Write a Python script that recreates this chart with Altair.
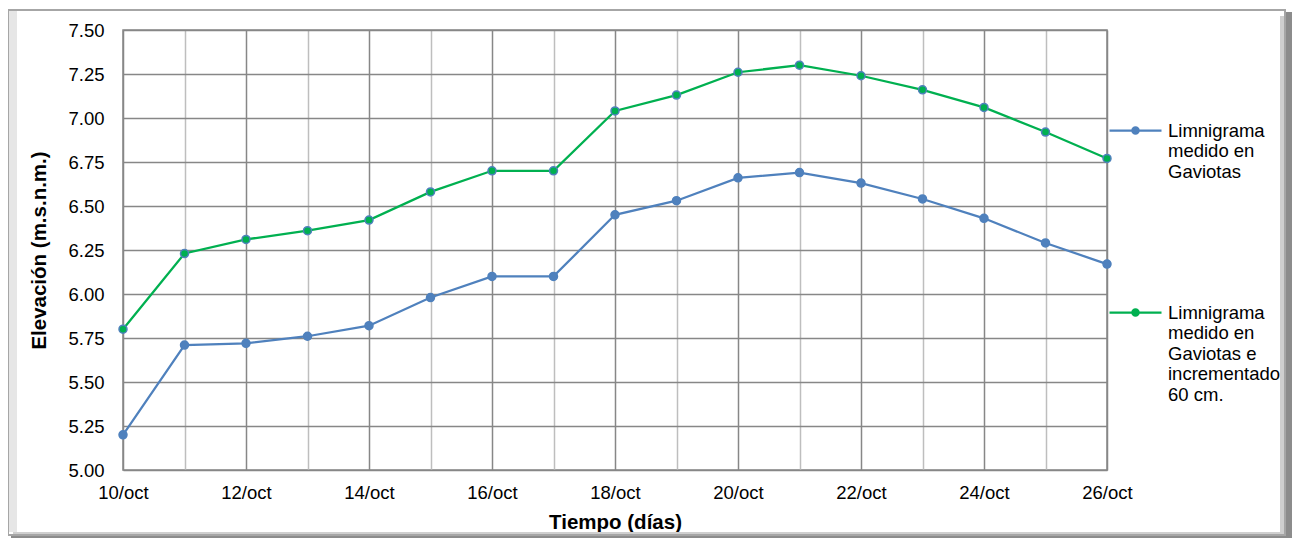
import altair as alt
import pandas as pd

# ---- data ----
dias = [10, 11, 12, 13, 14, 15, 16, 17, 18, 19, 20, 21, 22, 23, 24, 25, 26]
mes = "oct"
medido = [5.20, 5.71, 5.72, 5.76, 5.82, 5.98, 6.10, 6.10, 6.45, 6.53, 6.66, 6.69,
          6.63, 6.54, 6.43, 6.29, 6.17]
incrementado = [5.80, 6.23, 6.31, 6.36, 6.42, 6.58, 6.70, 6.70, 7.04, 7.13, 7.26,
                7.30, 7.24, 7.16, 7.06, 6.92, 6.77]
serie_1 = "Limnigrama\nmedido en\nGaviotas"
serie_2 = "Limnigrama\nmedido en\nGaviotas e\nincrementado\n60 cm."
y_ticks = [5.00, 5.25, 5.50, 5.75, 6.00, 6.25, 6.50, 6.75, 7.00, 7.25, 7.50]

rows = []
for d, v in zip(dias, medido):
    rows.append({"dia": d, "elev": v, "serie": serie_1})
for d, v in zip(dias, incrementado):
    rows.append({"dia": d, "elev": v, "serie": serie_2})
df = pd.DataFrame(rows)

BLUE = "#4F81BD"
GREEN = "#00B050"
DARK = "#878787"
LIGHT = "#BEBEBE"
FONT = "Liberation Sans"

W, H = 984, 440

x_enc = alt.X(
    "dia:Q",
    scale=alt.Scale(domain=[dias[0], dias[-1]], nice=False, zero=False),
    axis=alt.Axis(
        values=dias,
        labelExpr=f"datum.value % 2 == 0 ? datum.value + '/{mes}' : ''",
        labelOverlap=False,
        labelFlush=False,
        ticks=False,
        domain=False,
        labelPadding=13,
        labelFontSize=18.5,
        labelFont=FONT,
        labelColor="#000000",
        gridColor={"condition": {"test": "datum.value % 2 == 0", "value": DARK},
                   "value": LIGHT},
        gridWidth=1.5,
        title="Tiempo (días)",
        titleFont=FONT,
        titleFontSize=20.5,
        titleFontWeight="bold",
        titleColor="#000000",
        titleBaseline="middle",
        titleY=52,
    ),
)
y_enc = alt.Y(
    "elev:Q",
    scale=alt.Scale(domain=[y_ticks[0], y_ticks[-1]], nice=False, zero=False),
    axis=alt.Axis(
        values=y_ticks,
        format=".2f",
        labelOverlap=False,
        labelFlush=False,
        ticks=False,
        domain=False,
        labelPadding=19,
        labelFontSize=18.5,
        labelFont=FONT,
        labelColor="#000000",
        gridColor=DARK,
        gridWidth=1.5,
        title="Elevación (m.s.n.m.)",
        titleFont=FONT,
        titleFontSize=20.5,
        titleFontWeight="bold",
        titleColor="#000000",
        titleBaseline="middle",
        titleAngle=270,
        titleX=-84,
        titleY=H / 2,
    ),
)

scale_c = alt.Scale(domain=[serie_1, serie_2], range=[BLUE, GREEN])
r = 0.12
sym_path = (f"M-1,0L1,0M{r},0A{r},{r},0,1,1,{-r},0A{r},{r},0,1,1,{r},0Z")

base = alt.Chart(df)

line = base.mark_line(strokeWidth=2.25).encode(
    x=x_enc,
    y=y_enc,
    color=alt.Color(
        "serie:N",
        scale=scale_c,
        sort=[serie_1, serie_2],
        legend=alt.Legend(
            title=None,
            orient="none",
            legendX=985,
            legendY=73,
            symbolType=sym_path,
            symbolSize=2704,
            symbolStrokeWidth=2.25,
            labelFont=FONT,
            labelFontSize=18.5,
            labelColor="#000000",
            labelLimit=0,
            labelOffset=5,
            labelExpr="split(datum.label, '\\n')",
            rowPadding=104,
        ),
    ),
)

pts = base.mark_point(filled=True, size=64, stroke=BLUE, strokeWidth=1.5, opacity=1).encode(
    x=alt.X("dia:Q"),
    y=alt.Y("elev:Q"),
    fill=alt.Fill("serie:N", scale=scale_c, legend=None),
)

# chart frame (decoration around the plot area)
def band(x, x2, y, y2, color):
    return alt.Chart(df).mark_rect(color=color).encode(
        x=alt.value(x), x2=alt.value(x2), y=alt.value(y), y2=alt.value(y2)
    )

frame_left = band(-114, -106, -19, 502, "#E6E6E6")
frame_bottom_l = band(-110, 1162, 502, 505, "#CFCFCF")
frame_bottom_d = band(-112, 1169, 505, 508, "#8C8C8C")
frame_right_l = band(1157, 1162, -14, 505, "#CFCFCF")
frame_right_d = band(1162, 1169, -18, 508, "#8C8C8C")
frame_line = alt.Chart(df).mark_rect(fillOpacity=0, stroke="#A6A6A6", strokeWidth=1.5).encode(
    x=alt.value(-115), x2=alt.value(1162), y=alt.value(-20), y2=alt.value(505)
)

chart = (
    alt.layer(frame_left, frame_bottom_l, frame_right_l, frame_bottom_d, frame_right_d,
              frame_line, line, pts)
    .properties(
        width=W,
        height=H,
        autosize=alt.AutoSizeParams(type="none"),
        padding={"left": 115, "top": 22, "right": 185, "bottom": 68},
    )
    .configure(background="#FFFFFF")
    .configure_view(stroke=DARK, strokeWidth=1.5)
)

chart.save("out.html", embed_options={"renderer": "svg", "actions": False})
